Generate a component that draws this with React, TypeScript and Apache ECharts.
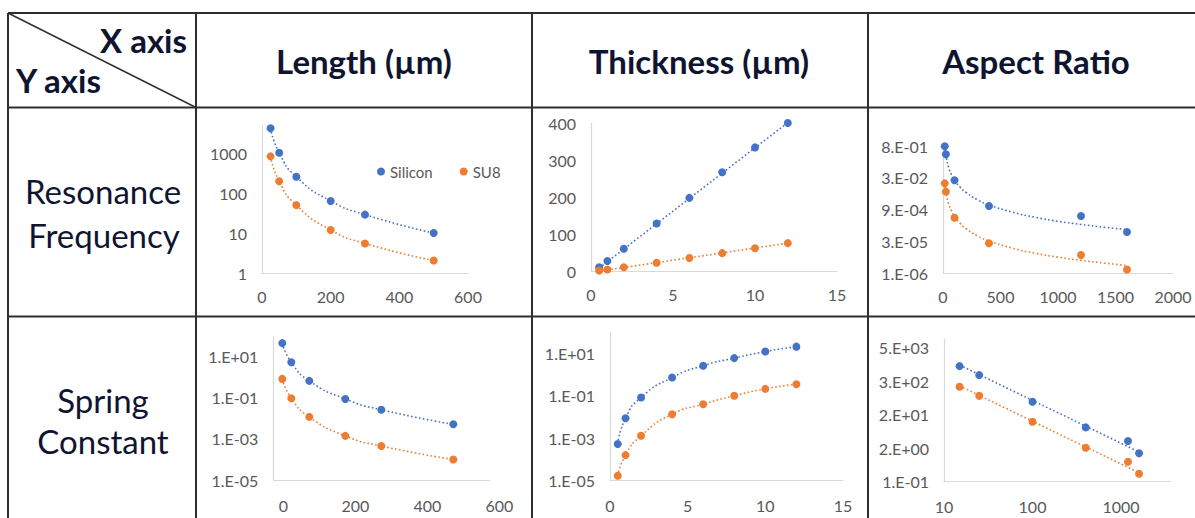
import React, { useEffect, useRef } from 'react';
import * as echarts from 'echarts';

const BLUE = '#4472C4';
const ORANGE = '#ED7D31';
const SERIES_NAMES = ['Silicon', 'SU8'];

// ---------- Row 1 : Resonance Frequency ----------
// vs Length (µm)
const lengthUm = [25, 50, 100, 200, 300, 500];
const rfLenSilicon = [4300, 1050, 262, 65, 29.5, 10.2];
const rfLenSU8 = [850, 203, 51, 12.2, 5.6, 2.1];
const rfLenYTicks = [1, 10, 100, 1000];
const rfLenYLabels = ['1', '10', '100', '1000'];

// vs Thickness (µm)
const thicknessUm = [0.5, 1, 2, 4, 6, 8, 10, 12];
const rfThkSilicon = [12, 29, 62, 130, 199, 268, 335, 401];
const rfThkSU8 = [3, 6, 12, 24, 37, 50, 63, 77];
const rfThkTrendX = [0.5, 12];
const rfThkTrendSilicon = [10, 402];
const rfThkTrendSU8 = [1.5, 77];

// vs Aspect Ratio
const aspectRatio = [15, 25, 100, 400, 1200, 1600];
const rfArSilicon = [0.8, 0.34, 0.021, 1.34e-3, 4.6e-4, 8.3e-5];
const rfArSU8 = [0.015, 6.2e-3, 3.8e-4, 2.5e-5, 7.1e-6, 1.5e-6];
const rfArTrendX = [15, 20, 30, 50, 75, 100, 150, 200, 300, 400, 600, 800, 1000, 1200, 1400, 1600];
const rfArTrendSilicon = [0.8, 0.46, 0.213, 0.08, 0.037, 0.0214, 9.9e-3, 5.7e-3, 2.6e-3, 1.5e-3, 7.0e-4, 4.0e-4, 2.6e-4, 1.86e-4, 1.38e-4, 1.07e-4];
const rfArTrendSU8 = [1.64e-2, 9.5e-3, 4.4e-3, 1.67e-3, 7.7e-4, 4.5e-4, 2.07e-4, 1.2e-4, 5.5e-5, 3.2e-5, 1.49e-5, 8.6e-6, 5.6e-6, 4.0e-6, 3.0e-6, 2.3e-6];
const rfArYTicks = [1e-6, 3e-5, 9e-4, 2.7e-2, 8.1e-1];
const rfArYLabels = ['1.E-06', '3.E-05', '9.E-04', '3.E-02', '8.E-01'];

// ---------- Row 2 : Spring Constant ----------
// vs Length (µm)
const scLenSilicon = [45, 5.3, 0.66, 0.087, 0.026, 0.0051];
const scLenSU8 = [0.82, 0.095, 0.0117, 1.4e-3, 4.5e-4, 1.0e-4];
const scYTicks = [1e-5, 1e-3, 1e-1, 1e1];
const scYLabels = ['1.E-05', '1.E-03', '1.E-01', '1.E+01'];

// vs Thickness (µm)
const scThkSilicon = [5.3e-4, 8.7e-3, 0.083, 0.72, 2.6, 5.9, 12, 20.4];
const scThkSU8 = [1.7e-5, 1.6e-4, 1.3e-3, 0.0135, 0.04, 0.1, 0.21, 0.35];

// vs Aspect Ratio
const scArSilicon = [1120, 543, 63, 8.0, 2.66, 0.99];
const scArSU8 = [211, 102, 12.6, 1.55, 0.5, 0.19];
const scArTrendX = [15, 1600];
const scArTrendSilicon = [1220, 1.1];
const scArTrendSU8 = [227, 0.206];
const scArYTicks = [0.1, 1.5, 22.5, 337.5, 5062.5];
const scArYLabels = ['1.E-01', '2.E+00', '2.E+01', '3.E+02', '5.E+03'];
const scArXTicks = [10, 100, 1000];
const scArXLabels = ['10', '100', '1000'];

// ---------- Table texts ----------
const columnHeaders = ['Length (µm)', 'Thickness (µm)', 'Aspect Ratio'];
const rowHeaders = [['Resonance', 'Frequency'], ['Spring', 'Constant']];
const cornerX = 'X axis';
const cornerY = 'Y axis';

const zip = (xs: number[], ys: number[]) => xs.map((x, i) => [x, ys[i]]);

const lookupLabel = (ticks: number[], labels: string[]) => (v: number) => {
  let best = 0;
  let bd = Infinity;
  ticks.forEach((t, i) => {
    const d = Math.abs(Math.log(v) - Math.log(t));
    if (d < bd) {
      bd = d;
      best = i;
    }
  });
  return labels[best];
};
const plain = (v: number) => String(Math.round(v * 1000) / 1000);

const FONT = 'Lato';
const TICK_COLOR = '#595959';
const AXIS_COLOR = '#d9d9d9';
const TABLE_COLOR = '#2e2e2e';
const TEXT_COLOR = '#0f1430';

const baseAxis = (extra: any) => {
  const { axisLabel, ...rest } = extra;
  return {
    axisLine: { show: true, onZero: false, lineStyle: { color: AXIS_COLOR, width: 1.2 } },
    axisTick: { show: false },
    splitLine: { show: false },
    axisLabel: { color: TICK_COLOR, fontSize: 16, fontFamily: FONT, margin: 15, formatter: plain, ...(axisLabel || {}) },
    ...rest,
  };
};

export default function App() {
  const ref = useRef<HTMLDivElement>(null);

  useEffect(() => {
    if (!ref.current) return;
    const chart = echarts.init(ref.current, undefined, { renderer: 'svg' });

    const grids = [
      { left: 262, top: 126, width: 206, height: 147.3 },
      { left: 591, top: 123.3, width: 246, height: 148.4 },
      { left: 943, top: 145.5, width: 230, height: 127.8 },
      { left: 273.3, top: 336, width: 216, height: 144 },
      { left: 610, top: 332, width: 233, height: 148.7 },
      { left: 944, top: 339, width: 226, height: 142.7 },
    ].map((g) => ({ ...g, containLabel: false, outerBoundsMode: 'none' }));

    const xAxes = [
      baseAxis({ type: 'value', gridIndex: 0, min: 0, max: 600, interval: 200 }),
      baseAxis({ type: 'value', gridIndex: 1, min: 0, max: 15, interval: 5 }),
      baseAxis({ type: 'value', gridIndex: 2, min: 0, max: 2000, interval: 500 }),
      baseAxis({ type: 'value', gridIndex: 3, min: 0, max: 600, interval: 200, axisLabel: { padding: [0, 0, 0, 20], margin: 17 } }),
      baseAxis({ type: 'value', gridIndex: 4, min: 0, max: 15, interval: 5, axisLabel: { margin: 17 } }),
      baseAxis({
        type: 'log', gridIndex: 5, min: 10, max: 3580,
        axisLabel: { customValues: scArXTicks, formatter: lookupLabel(scArXTicks, scArXLabels), margin: 17 },
      }),
    ];

    const yAxes = [
      baseAxis({
        type: 'log', gridIndex: 0, min: 1, max: 4900,
        axisLabel: { customValues: rfLenYTicks, formatter: lookupLabel(rfLenYTicks, rfLenYLabels) },
      }),
      baseAxis({ type: 'value', gridIndex: 1, min: 0, max: 400, interval: 100 }),
      baseAxis({
        type: 'log', gridIndex: 2, min: 1e-6, max: 0.86,
        axisLabel: { customValues: rfArYTicks, formatter: lookupLabel(rfArYTicks, rfArYLabels) },
      }),
      baseAxis({
        type: 'log', gridIndex: 3, min: 1e-5, max: 100,
        axisLabel: { customValues: scYTicks, formatter: lookupLabel(scYTicks, scYLabels) },
      }),
      baseAxis({
        type: 'log', gridIndex: 4, min: 1e-5, max: 100,
        axisLabel: { customValues: scYTicks, formatter: lookupLabel(scYTicks, scYLabels) },
      }),
      baseAxis({
        type: 'log', gridIndex: 5, min: 0.1, max: 10000,
        axisLabel: { customValues: scArYTicks, formatter: lookupLabel(scArYTicks, scArYLabels) },
      }),
    ];

    const scatter = (idx: number, name: string, color: string, data: number[][]) => ({
      type: 'scatter', name, xAxisIndex: idx, yAxisIndex: idx, data,
      symbol: 'circle', symbolSize: 8, itemStyle: { color, opacity: 1 }, z: 3, clip: false,
    });
    const trend = (idx: number, name: string, color: string, data: number[][], smooth: boolean) => ({
      type: 'line', name: name + ' trend', xAxisIndex: idx, yAxisIndex: idx, data,
      showSymbol: false, symbol: 'none', smooth: smooth ? 0.6 : false,
      lineStyle: { color, width: 1.6, type: [1.6, 2.4] }, z: 2, silent: true,
    });

    const plots = [
      { x: lengthUm, si: rfLenSilicon, su: rfLenSU8, tsi: zip(lengthUm, rfLenSilicon), tsu: zip(lengthUm, rfLenSU8), smooth: true },
      { x: thicknessUm, si: rfThkSilicon, su: rfThkSU8, tsi: zip(rfThkTrendX, rfThkTrendSilicon), tsu: zip(rfThkTrendX, rfThkTrendSU8), smooth: false },
      { x: aspectRatio, si: rfArSilicon, su: rfArSU8, tsi: zip(rfArTrendX, rfArTrendSilicon), tsu: zip(rfArTrendX, rfArTrendSU8), smooth: true },
      { x: lengthUm, si: scLenSilicon, su: scLenSU8, tsi: zip(lengthUm, scLenSilicon), tsu: zip(lengthUm, scLenSU8), smooth: true },
      { x: thicknessUm, si: scThkSilicon, su: scThkSU8, tsi: zip(thicknessUm, scThkSilicon), tsu: zip(thicknessUm, scThkSU8), smooth: true },
      { x: aspectRatio, si: scArSilicon, su: scArSU8, tsi: zip(scArTrendX, scArTrendSilicon), tsu: zip(scArTrendX, scArTrendSU8), smooth: false },
    ];

    const series: any[] = [];
    plots.forEach((p, i) => {
      series.push(trend(i, SERIES_NAMES[0], BLUE, p.tsi, p.smooth));
      series.push(trend(i, SERIES_NAMES[1], ORANGE, p.tsu, p.smooth));
      series.push(scatter(i, SERIES_NAMES[0], BLUE, zip(p.x, p.si)));
      series.push(scatter(i, SERIES_NAMES[1], ORANGE, zip(p.x, p.su)));
    });

    const line = (x1: number, y1: number, x2: number, y2: number, w = 2) => ({
      type: 'line', silent: true, shape: { x1, y1, x2, y2 },
      style: { stroke: TABLE_COLOR, lineWidth: w },
    });
    const text = (t: string, x: number, y: number, size: number, bold: boolean, align = 'center') => ({
      type: 'text', silent: true, x, y,
      style: {
        text: t, fill: TEXT_COLOR, font: `${bold ? 'bold ' : ''}${size}px ${FONT}`,
        align, textAlign: align, verticalAlign: 'middle', textVerticalAlign: 'middle',
      },
    });

    const graphic: any[] = [
      line(8, 13, 1195, 13),
      line(8, 13, 8, 518),
      line(196, 13, 196, 518),
      line(532, 13, 532, 518),
      line(868, 13, 868, 518),
      line(8, 107.5, 1195, 107.5),
      line(8, 316.5, 1195, 316.5),
      line(8, 13, 196, 107.5, 1.4),
      text(cornerX, 187, 40, 33, true, 'right'),
      text(cornerY, 16, 80, 33, true, 'left'),
      text(columnHeaders[0], 364, 61, 33, true),
      text(columnHeaders[1], 699, 61, 33, true),
      text(columnHeaders[2], 1036, 61, 33, true),
      text(rowHeaders[0][0], 103, 191, 33, false),
      text(rowHeaders[0][1], 104, 235, 33, false),
      text(rowHeaders[1][0], 103, 400, 33, false),
      text(rowHeaders[1][1], 103, 441, 33, false),
    ];

    chart.setOption({
      animation: false,
      backgroundColor: '#ffffff',
      textStyle: { fontFamily: FONT },
      legend: {
        data: SERIES_NAMES,
        left: 372,
        top: 159,
        orient: 'horizontal',
        icon: 'circle',
        itemWidth: 8,
        itemHeight: 8,
        itemGap: 27,
        textStyle: { color: TICK_COLOR, fontSize: 15, fontFamily: FONT },
        selectedMode: false,
      },
      grid: grids,
      xAxis: xAxes,
      yAxis: yAxes,
      series,
      graphic,
    });

    return () => chart.dispose();
  }, []);

  return (
    <div
      ref={ref}
      style={{ position: 'absolute', left: 0, top: 0, width: 1195, height: 518, background: '#fff' }}
    />
  );
}
